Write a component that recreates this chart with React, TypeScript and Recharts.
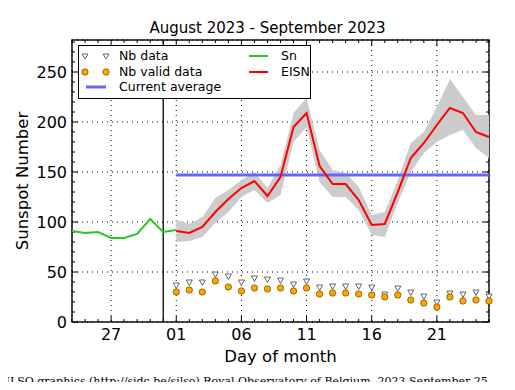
import React from "react";
import * as Recharts from "recharts";
import {
  ComposedChart,
  Line,
  Area,
  XAxis,
  YAxis,
  CartesianGrid,
  ReferenceLine,
} from "recharts";

// day offsets relative to 1 September 2023 (negative = August)
const firstDay = -8;
const lastDay = 24;
const monthBreak = -1; // 31 August

// daily Sn, 24 Aug .. 1 Sep
const snValues = [91, 89, 90, 84, 84, 88, 103, 90, 92];
// EISN and its band, 1 Sep .. 25 Sep
const eisnValues = [91, 89, 95, 110, 123, 134, 141, 126, 145, 195, 209, 156, 138, 138, 122, 97, 98, 130, 164, 179, 197, 214, 209, 190, 185];
const bandHigh = [102, 98, 105, 124, 132, 142, 150, 134, 157, 209, 224, 172, 152, 149, 135, 107, 110, 142, 179, 190, 215, 243, 225, 207, 207];
const bandLow = [80, 81, 85, 99, 110, 125, 132, 119, 127, 180, 195, 140, 125, 125, 112, 87, 85, 119, 150, 169, 180, 187, 192, 174, 164];
// number of stations
const nbData = [36, 39, 39, 47, 45, 39, 43, 42, 41, 37, 40, 34, 35, 35, 35, 34, 27, 33, 29, 25, 19, 28, 27, 29, 25];
const nbValid = [30, 32, 30, 41, 35, 31, 34, 33, 34, 31, 34, 28, 29, 29, 28, 27, 25, 27, 22, 19, 15, 25, 21, 22, 21];
const currentAverage = 147;

const xTicks = [-5, 0, 5, 10, 15, 20];
const yTicks = [0, 50, 100, 150, 200, 250];
const yDomain = [0, 282];

const dayTicks: number[] = [];
for (let d = firstDay; d <= lastDay; d++) dayTicks.push(d);
const tenTicks: number[] = [];
for (let v = 0; v <= 280; v += 10) tenTicks.push(v);

const data = dayTicks.map((day) => ({
  day,
  sn: day <= 0 ? snValues[day - firstDay] : null,
  eisn: day >= 0 ? eisnValues[day] : null,
  band: day >= 0 ? [bandLow[day], bandHigh[day]] : null,
  nb: day >= 0 ? nbData[day] : null,
  valid: day >= 0 ? nbValid[day] : null,
  avg: day >= 0 ? currentAverage : null,
}));

const dayLabel = (d: number) =>
  d < 0 ? String(32 + d) : String(d + 1).padStart(2, "0");

const FONT = "'DejaVu Sans', sans-serif";

const R: any = Recharts;
function usePlot() {
  const pa = R.usePlotArea ? R.usePlotArea() : null;
  return pa ?? { x: 72, y: 40, width: 417, height: 282 };
}

// inward ticks on all four sides plus the box
function FrameTicks() {
  const { x, y, width, height } = usePlot();
  const sx = (d: number) => x + ((d - firstDay) / (lastDay - firstDay)) * width;
  const sy = (v: number) => y + height - ((v - yDomain[0]) / (yDomain[1] - yDomain[0])) * height;
  const lines: React.ReactNode[] = [];
  dayTicks.forEach((d) => {
    const len = xTicks.includes(d) ? 6 : 3;
    const px = sx(d);
    lines.push(<line key={`b${d}`} x1={px} x2={px} y1={y + height} y2={y + height - len} />);
    lines.push(<line key={`t${d}`} x1={px} x2={px} y1={y} y2={y + len} />);
  });
  tenTicks.forEach((v) => {
    const len = yTicks.includes(v) ? 6 : 3;
    const py = sy(v);
    lines.push(<line key={`l${v}`} x1={x} x2={x + len} y1={py} y2={py} />);
    lines.push(<line key={`r${v}`} x1={x + width} x2={x + width - len} y1={py} y2={py} />);
  });
  return (
    <g stroke="#000" strokeWidth={1}>
      {lines}
      <rect x={x} y={y} width={width} height={height} fill="none" strokeWidth={1.4} />
    </g>
  );
}

const TriangleDot = (props: any) => {
  const { cx, cy, value, index } = props;
  if (value == null || cy == null) return <g key={index} />;
  return (
    <path
      key={index}
      d={`M${cx - 3},${cy - 3} L${cx + 3},${cy - 3} L${cx},${cy + 2.5} Z`}
      fill="#ffffff"
      stroke="#555555"
      strokeWidth={0.9}
    />
  );
};

const CircleDot = (props: any) => {
  const { cx, cy, value, index } = props;
  if (value == null || cy == null) return <g key={index} />;
  return (
    <circle key={index} cx={cx} cy={cy} r={3.2} fill="#ffa500" stroke="#6b4a00" strokeWidth={0.7} />
  );
};

function LegendBox() {
  const row = { position: "absolute" as const, whiteSpace: "nowrap" as const };
  return (
    <div
      style={{
        position: "absolute",
        left: 78,
        top: 45,
        width: 231,
        height: 52,
        background: "#fff",
        border: "1px solid #000",
        fontFamily: FONT,
        fontSize: 12.5,
        color: "#000",
      }}
    >
      <svg width={231} height={52} style={{ position: "absolute", left: 0, top: 0 }}>
        <path d="M3,8 L9,8 L6,13 Z" fill="#fff" stroke="#555" strokeWidth={0.9} />
        <path d="M24,8 L30,8 L27,13 Z" fill="#fff" stroke="#555" strokeWidth={0.9} />
        <circle cx={6} cy={26} r={3.2} fill="#ffa500" stroke="#6b4a00" strokeWidth={0.7} />
        <circle cx={27} cy={26} r={3.2} fill="#ffa500" stroke="#6b4a00" strokeWidth={0.7} />
        <line x1={7} x2={27} y1={41} y2={41} stroke="#6666ff" strokeWidth={3} />
        <line x1={170} x2={189} y1={10} y2={10} stroke="#22cc22" strokeWidth={2} />
        <line x1={170} x2={189} y1={26} y2={26} stroke="#ff0000" strokeWidth={2} />
      </svg>
      <div style={{ ...row, left: 40, top: 2 }}>Nb data</div>
      <div style={{ ...row, left: 40, top: 18 }}>Nb valid data</div>
      <div style={{ ...row, left: 40, top: 33 }}>Current average</div>
      <div style={{ ...row, left: 202, top: 2 }}>Sn</div>
      <div style={{ ...row, left: 202, top: 18 }}>EISN</div>
    </div>
  );
}

export default function App() {
  const tickStyle = { fontFamily: FONT, fontSize: 16, fill: "#000" };
  return (
    <div style={{ position: "relative", width: 515, height: 390, margin: -8, background: "#fff", overflow: "hidden" }}>
      <ComposedChart
        width={515}
        height={390}
        data={data}
        margin={{ top: 40, right: 26, bottom: 38, left: 32 }}
      >
        <XAxis
          dataKey="day"
          type="number"
          domain={[firstDay, lastDay]}
          ticks={xTicks}
          interval={0}
          tickFormatter={dayLabel}
          tickLine={false}
          tickSize={0}
          tickMargin={7}
          height={30}
          tick={tickStyle}
          axisLine={false}
        />
        <YAxis
          type="number"
          domain={yDomain}
          ticks={yTicks}
          interval={0}
          allowDataOverflow
          width={40}
          tickLine={false}
          tickSize={0}
          tickMargin={5}
          tick={tickStyle}
          axisLine={false}
        />
        <Area
          dataKey="band"
          stroke="none"
          fill="#cccccc"
          fillOpacity={1}
          isAnimationActive={false}
          activeDot={false}
        />
        <CartesianGrid stroke="#000" strokeDasharray="1 4" strokeWidth={1} />
        <ReferenceLine x={monthBreak} stroke="#000" strokeWidth={1.3} />
        <Line dataKey="avg" stroke="#6666ff" strokeWidth={3} dot={false} activeDot={false} isAnimationActive={false} />
        <Line dataKey="sn" stroke="#22cc22" strokeWidth={2} dot={false} activeDot={false} isAnimationActive={false} />
        <Line dataKey="eisn" stroke="#ff0000" strokeWidth={2} dot={false} activeDot={false} isAnimationActive={false} />
        <Line dataKey="nb" stroke="none" dot={TriangleDot} activeDot={false} isAnimationActive={false} />
        <Line dataKey="valid" stroke="none" dot={CircleDot} activeDot={false} isAnimationActive={false} />
        <FrameTicks />
      </ComposedChart>
      <LegendBox />
      <div style={{ position: "absolute", left: 0, width: 535, top: 19, textAlign: "center", fontFamily: FONT, fontSize: 15 }}>
        August 2023 - September 2023
      </div>
      <div style={{ position: "absolute", left: 72, width: 417, top: 347, textAlign: "center", fontFamily: FONT, fontSize: 16.5 }}>
        Day of month
      </div>
      <div
        style={{
          position: "absolute",
          left: 22,
          top: 181,
          transform: "translate(-50%, -50%) rotate(-90deg)",
          whiteSpace: "nowrap",
          fontFamily: FONT,
          fontSize: 16.5,
        }}
      >
        Sunspot Number
      </div>
      <div style={{ position: "absolute", left: -2, top: 375, whiteSpace: "nowrap", fontFamily: "'DejaVu Serif', serif", fontSize: 11 }}>
        SILSO graphics (http://sidc.be/silso) Royal Observatory of Belgium, 2023 September 25
      </div>
    </div>
  );
}
